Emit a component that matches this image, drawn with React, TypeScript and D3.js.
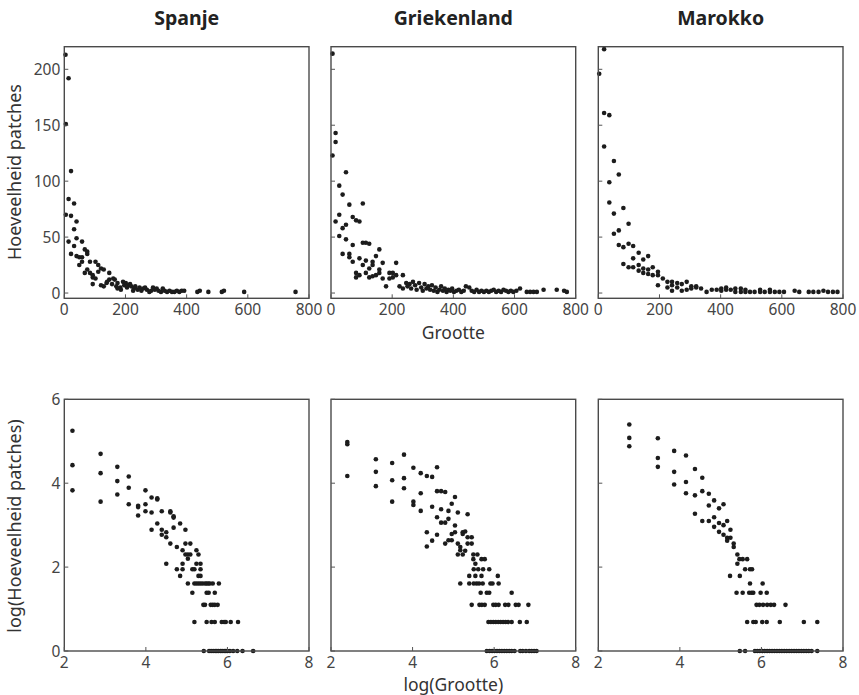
import React from "react";
import * as d3 from "d3";

// panel titles and axis ticks
const countries = ["Spanje", "Griekenland", "Marokko"];
const sizeTicks = [0, 200, 400, 600, 800];
const countTicks = [0, 50, 100, 150, 200];
const logSizeTicks = [2, 4, 6, 8];
const logCountTicks = [0, 2, 4, 6];

// [grootte, hoeveelheid]
const spainCounts: [number, number][] = [
  [4,213],[14,192],[5,151],[22,109],[14,84],[32,80],[5,70],[22,69],[40,64],[32,57],[40,49],[58,46],[14,46],[32,42],
  [67,39],[75,37],[75,35],[22,35],[40,33],[49,32],[58,32],[49,25],[58,28],[67,18],[75,21],[84,28],[84,18],[93,16],
  [102,28],[111,25],[120,22],[93,14],[102,13],[93,8],[111,19],[129,21],[120,7],[138,9],[147,12],[147,18],[156,8],
  [165,12],[174,9],[129,6],[183,5],[192,10],[201,9],[210,7],[219,6],[174,4],[228,4],
  [140,10],[160,13],[170,6],[185,3],[196,7],[205,5],[215,8],[225,2],[232,6],[240,3],[246,5],[252,2],[258,4],[264,5],
  [270,3],[278,1],[284,2],[290,5],[296,3],[302,4],[308,2],[316,1],[322,4],[328,2],[336,1],[344,2],[352,1],[360,1],
  [368,2],[376,1],[384,2],[392,2],[435,1],[443,2],[471,1],[515,1],[522,2],[588,1],[756,1],
];
const greeceCounts: [number, number][] = [
  [5,214],[15,143],[15,135],[5,123],[49,108],[27,96],[38,88],[60,79],[104,80],[71,68],[82,65],[93,64],[27,70],[15,64],
  [49,61],[38,58],[27,51],[49,48],[71,43],[104,45],[114,45],[125,44],[38,35],[60,35],[60,32],[158,39],[71,28],[93,31],
  [114,29],[147,33],[136,28],[169,27],[104,25],[125,22],[136,25],[213,27],[82,18],[93,16],[82,14],[114,18],[125,14],
  [136,15],[147,16],[158,21],[158,18],[169,13],[180,6],[191,18],[202,18],[191,13],[202,14],[213,16],[224,6],[235,16],
  [235,4],[246,9],[257,8],[268,10],
  [250,6],[262,4],[275,7],[280,3],[288,9],[295,5],[300,2],[306,8],[312,4],[318,6],[324,3],[330,7],[336,2],[342,5],
  [348,1],[354,3],[360,6],[366,2],[372,4],[378,1],[384,3],[390,2],[396,4],[402,1],[410,2],[418,3],[426,1],[434,2],
  [441,6],[452,5],[460,2],[468,1],[476,3],[484,1],[492,2],[500,1],[508,2],[516,1],[524,2],[532,3],[540,1],[548,2],
  [556,1],[564,3],[572,2],[580,1],[588,2],[596,1],[606,2],[618,4],[640,1],[651,1],[662,1],[673,1],[695,3],[738,3],
  [762,2],[771,1],
];
const moroccoCounts: [number, number][] = [
  [3,196],[19,218],[19,161],[36,159],[19,131],[51,118],[36,99],[67,106],[36,81],[51,71],[82,76],[99,62],[51,53],[67,56],
  [67,43],[82,41],[99,44],[114,42],[82,26],[99,23],[114,23],[114,31],[132,36],[147,30],[163,33],[132,25],[132,20],
  [147,22],[147,18],[163,21],[163,17],[178,23],[178,16],[195,19],[195,16],[195,7],[211,13],[226,10],[226,5],[241,10],
  [241,7],[241,2],[258,9],[258,5],[273,8],[273,2],[289,10],[289,3],[304,6],[304,4],[320,6],[320,5],[336,4],[354,1],
  [371,3],[387,3],[402,2],[402,4],[418,3],[418,5],[433,3],[448,1],[448,4],[466,1],[466,4],[481,3],[481,1],[496,1],
  [511,1],[529,3],[529,1],[544,1],[561,3],[561,1],[577,1],[592,1],[607,1],[642,2],[657,1],[688,1],[703,1],[720,1],
  [736,2],[751,1],[767,1],[782,1],
];

// [log(grootte), log(hoeveelheid)]
const spainLog: [number, number][] = [
  [2.2,5.25],[2.2,4.43],[2.2,3.83],[2.89,4.7],[2.89,4.24],[2.89,3.56],[3.3,4.39],[3.3,4.05],[3.3,3.73],
  [3.58,4.16],[3.58,3.89],[3.58,3.5],[3.81,3.46],[3.81,3.43],[3.81,3.23],[3.99,3.83],[3.99,3.5],[3.99,3.33],
  [4.14,3.66],[4.14,3.3],[4.14,2.89],[4.28,3.64],[4.28,3.61],[4.28,3.04],[4.39,3.33],[4.39,2.89],[4.39,2.77],
  [4.5,2.83],[4.5,2.71],[4.5,2.08],[4.6,3.33],[4.6,3.3],[4.6,2.56],[4.68,3.21],[4.68,3.18],[4.68,2.94],
  [4.76,2.48],[4.76,1.95],[4.84,3.04],[4.84,1.79],[4.9,2.4],[4.9,2.08],[4.9,1.95],[4.97,2.89],[4.97,2.56],
  [4.97,2.3],[5.03,2.3],[5.03,2.2],[5.03,1.61],[5.09,2.56],[5.09,2.3],[5.14,1.95],[5.14,1.39],[5.19,1.95],
  [5.19,1.61],[5.19,0.69],[5.24,2.4],[5.24,2.08],[5.24,1.61],[5.29,2.3],[5.29,1.79],[5.29,1.61],[5.34,2.08],
  [5.34,1.95],[5.34,1.79],[5.34,1.61],[5.39,1.61],[5.41,1.1],[5.45,1.1],[5.42,0],[5.45,1.61],[5.49,1.61],
  [5.49,1.39],[5.49,0.69],[5.53,1.61],[5.54,1.39],[5.55,0],[5.57,1.61],[5.59,1.1],[5.6,0],[5.61,0.69],
  [5.64,1.61],[5.64,1.1],[5.65,0],[5.69,1.39],[5.69,1.1],[5.69,0.69],[5.7,0],[5.76,1.1],[5.74,0],[5.79,1.61],
  [5.78,0],[5.83,0],[5.86,0.69],[5.87,0],[5.92,0.69],[5.92,0],[5.96,0.69],[5.96,0],[6.0,0],[6.08,0.69],
  [6.06,0],[6.14,0],[6.24,0],[6.26,0.69],[6.37,0],[6.63,0],
];
const greeceLog: [number, number][] = [
  [2.4,4.98],[2.4,4.93],[2.4,4.17],[3.1,4.57],[3.1,4.27],[3.1,3.93],[3.5,4.48],[3.5,4.07],[3.5,3.56],
  [3.79,4.68],[3.79,4.12],[3.79,3.88],[4.02,4.37],[4.02,3.56],[4.02,3.48],[4.2,4.24],[4.2,3.76],[4.2,3.34],
  [4.35,4.17],[4.35,2.83],[4.35,2.49],[4.48,4.15],[4.48,3.44],[4.48,2.63],[4.6,4.38],[4.6,3.81],[4.6,3.19],
  [4.6,2.77],[4.7,3.81],[4.7,3.38],[4.7,3.06],[4.8,3.79],[4.8,3.06],[4.8,2.56],[4.88,3.34],[4.88,3.15],
  [4.88,2.64],[4.96,3.51],[4.96,2.79],[4.96,2.64],[5.04,3.67],[5.04,2.99],[5.04,2.83],[5.11,3.3],[5.11,2.56],
  [5.11,2.3],[5.17,2.48],[5.17,2.4],[5.17,1.61],[5.23,2.83],[5.23,2.79],[5.23,2.3],[5.29,2.85],[5.29,2.39],
  [5.35,3.26],[5.35,2.71],[5.35,2.56],[5.39,1.79],[5.39,1.61],[5.45,2.71],[5.45,2.56],[5.45,1.1],[5.49,2.3],
  [5.49,2.19],[5.5,1.95],[5.5,1.61],[5.54,2.08],[5.54,1.79],[5.57,1.61],[5.59,2.3],[5.61,1.95],[5.63,1.61],
  [5.64,1.1],[5.67,1.39],[5.69,2.19],[5.69,1.79],[5.7,1.1],[5.72,1.61],[5.73,1.95],[5.77,2.19],[5.77,1.1],
  [5.82,1.39],[5.82,0],[5.86,0.69],[5.88,1.95],[5.88,1.39],[5.89,0],[5.91,1.61],[5.92,0.69],[5.95,0],
  [5.96,1.61],[5.98,1.1],[5.98,0.69],[6.01,0],[6.04,1.1],[6.04,0.69],[6.07,0],[6.09,1.79],[6.1,0.69],
  [6.11,1.61],[6.11,1.1],[6.13,0],[6.16,0.69],[6.19,0],[6.22,0.69],[6.25,0],[6.27,1.1],[6.28,0.69],[6.31,0],
  [6.34,0.69],[6.35,1.1],[6.37,0],[6.43,1.39],[6.43,0.69],[6.43,0],[6.5,0],[6.53,1.1],[6.6,1.1],[6.63,0.69],
  [6.64,0],[6.7,0],[6.8,0.69],[6.78,0],[6.84,1.1],[6.86,0],[6.92,0],[6.98,0],[7.04,0],
];
const moroccoLog: [number, number][] = [
  [2.76,5.4],[2.76,5.08],[2.76,4.88],[3.46,5.07],[3.46,4.6],[3.46,4.39],[3.86,4.77],[3.86,4.27],[3.86,3.97],
  [4.15,4.66],[4.15,4.03],[4.15,3.76],[4.37,4.34],[4.37,3.71],[4.37,3.27],[4.55,4.13],[4.55,3.81],[4.55,3.1],
  [4.71,3.75],[4.71,3.47],[4.71,3.1],[4.84,3.59],[4.84,3.19],[4.84,2.96],[4.96,3.4],[4.96,3.05],[4.96,2.84],
  [5.07,3.5],[5.07,3.0],[5.07,2.77],[5.16,3.1],[5.16,2.7],[5.16,2.63],[5.24,2.89],[5.24,2.7],[5.23,1.79],
  [5.32,2.56],[5.32,2.48],[5.41,2.3],[5.41,2.08],[5.39,1.39],[5.46,2.19],[5.47,1.79],[5.47,0],[5.54,2.19],
  [5.54,1.39],[5.6,1.95],[5.6,0],[5.65,2.19],[5.65,0.69],[5.7,1.39],[5.72,1.95],[5.72,1.61],[5.76,1.39],
  [5.77,1.95],[5.8,1.39],[5.8,0.69],[5.84,0],[5.86,0.69],[5.88,1.1],[5.9,0],[5.95,1.1],[5.96,0],[5.98,1.39],
  [6.02,0.69],[6.03,1.61],[6.02,0],[6.04,1.1],[6.08,0],[6.13,1.39],[6.13,0.69],[6.14,1.1],[6.14,0],[6.2,0],
  [6.23,1.1],[6.26,0],[6.31,1.1],[6.32,0],[6.38,0],[6.44,0],[6.45,0.69],[6.5,0],[6.56,0],[6.59,1.1],[6.62,0],
  [6.68,0],[6.74,0],[6.8,0],[6.86,0],[6.92,0],[6.98,0],[7.04,0.69],[7.04,0],[7.1,0],[7.16,0],[7.23,0],
  [7.37,0.69],[7.37,0],
];

const countData = [spainCounts, greeceCounts, moroccoCounts];
const logData = [spainLog, greeceLog, moroccoLog];

const FONT = "'Noto Sans', 'Open Sans', sans-serif";
const panelLefts = [64.3, 331, 598.3];
const panelW = 244.7;

function Panel(props: any) {
  const { left, top, w, h, xDomain, yDomain, xTicks, yTicks, data, showY } = props;
  const x = d3.scaleLinear().domain(xDomain).range([left, left + w]);
  const y = d3.scaleLinear().domain(yDomain).range([top + h, top]);
  const bottom = top + h;
  return (
    <g>
      {data.map((d: [number, number], i: number) => (
        <circle key={i} cx={x(d[0])} cy={y(d[1])} r={2.3} fill="#1c1c1c" />
      ))}
      <rect x={left} y={top} width={w} height={h} fill="none" stroke="#4a4a4a" strokeWidth={1.4} />
      {xTicks.map((t: number) => (
        <g key={"x" + t}>
          <line x1={x(t)} x2={x(t)} y1={bottom} y2={bottom - 4} stroke="#555" strokeWidth={1} />
          <text x={x(t)} y={bottom + 17} textAnchor="middle" fontSize={15.5} fill="#444" fontFamily={FONT}>{t}</text>
        </g>
      ))}
      {yTicks.map((t: number) => (
        <g key={"y" + t}>
          <line x1={left} x2={left + 4} y1={y(t)} y2={y(t)} stroke="#555" strokeWidth={1} />
          {showY && (
            <text x={left - 4} y={y(t)} dy="0.36em" textAnchor="end" fontSize={15.5} fill="#444" fontFamily={FONT}>{t}</text>
          )}
        </g>
      ))}
    </g>
  );
}

export default function App() {
  return (
    <svg width={859} height={695} style={{ position: "absolute", left: 0, top: 0, background: "#fff" }}>
      {countries.map((c, i) => (
        <text key={c} x={panelLefts[i] + panelW / 2} y={25} textAnchor="middle" fontSize={19.5} fontWeight="bold" fill="#222" fontFamily={FONT}>{c}</text>
      ))}
      {countries.map((c, i) => (
        <Panel key={"top" + c} left={panelLefts[i]} top={46.7} w={panelW} h={251.6}
          xDomain={[0, 800]} yDomain={[-4.7, 220.2]} xTicks={sizeTicks} yTicks={countTicks}
          data={countData[i]} showY={i === 0} />
      ))}
      {countries.map((c, i) => (
        <Panel key={"bot" + c} left={panelLefts[i]} top={399.3} w={panelW} h={251.7}
          xDomain={[2, 8]} yDomain={[0, 6]} xTicks={logSizeTicks} yTicks={logCountTicks}
          data={logData[i]} showY={i === 0} />
      ))}
      <text x={panelLefts[1] + panelW / 2} y={339} textAnchor="middle" fontSize={17.5} fill="#333" fontFamily={FONT}>Grootte</text>
      <text x={panelLefts[1] + panelW / 2} y={691} textAnchor="middle" fontSize={17.5} fill="#333" fontFamily={FONT}>log(Grootte)</text>
      <text transform="translate(21,172) rotate(-90)" textAnchor="middle" fontSize={18} fill="#333" fontFamily={FONT}>Hoeveelheid patches</text>
      <text transform="translate(21,526) rotate(-90)" textAnchor="middle" fontSize={18} fill="#333" fontFamily={FONT}>log(Hoeveelheid patches)</text>
    </svg>
  );
}
